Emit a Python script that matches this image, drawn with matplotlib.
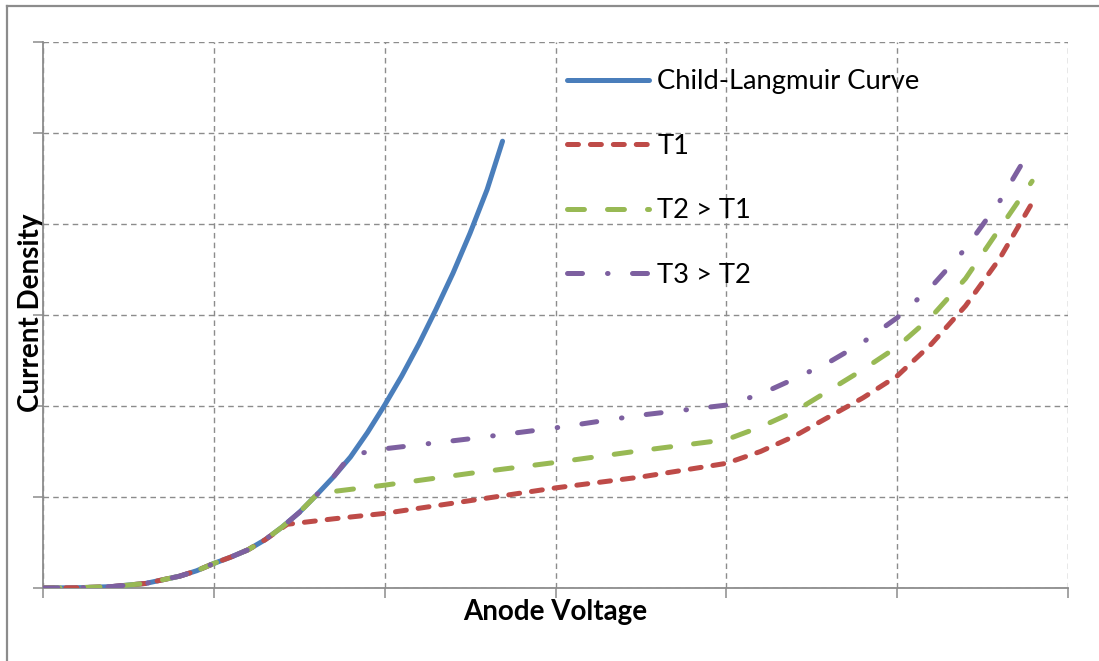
import matplotlib
matplotlib.use("Agg")
import matplotlib.pyplot as plt
from matplotlib.lines import Line2D

# Child-Langmuir (space-charge limited) curve
cl_v = [0, 0.2, 0.4, 0.6, 0.8, 0.9, 1.0, 1.1, 1.2, 1.3, 1.4, 1.5, 1.6, 1.7, 1.8, 1.9,
        2.0, 2.1, 2.2, 2.3, 2.4, 2.5, 2.6, 2.69]
cl_j = [0, 0.003, 0.015, 0.05, 0.13, 0.19, 0.27, 0.34, 0.42, 0.53, 0.67, 0.83, 1.02, 1.22, 1.44, 1.71,
        2.01, 2.33, 2.68, 3.06, 3.46, 3.90, 4.38, 4.91]

# temperature limited curves
t1_v = [0, 0.2, 0.4, 0.6, 0.8, 0.9, 1.0, 1.1, 1.2, 1.3, 1.43, 1.7, 2.0, 2.5, 3.0, 3.5, 4.0,
        4.2, 4.4, 4.6, 4.8, 5.0, 5.2, 5.4, 5.6, 5.78]
t1_j = [0, 0.003, 0.015, 0.05, 0.13, 0.19, 0.27, 0.34, 0.42, 0.53, 0.70, 0.76, 0.82, 0.96, 1.10, 1.22, 1.37,
        1.50, 1.67, 1.88, 2.09, 2.33, 2.68, 3.10, 3.62, 4.20]

t2_v = [0, 0.2, 0.4, 0.6, 0.8, 0.9, 1.0, 1.1, 1.2, 1.3, 1.4, 1.5, 1.61, 2.0, 2.5, 3.0, 3.5, 4.0,
        4.2, 4.4, 4.6, 4.8, 5.0, 5.2, 5.4, 5.6, 5.79]
t2_j = [0, 0.003, 0.015, 0.05, 0.13, 0.19, 0.27, 0.34, 0.42, 0.53, 0.67, 0.83, 1.04, 1.13, 1.26, 1.38, 1.51, 1.63,
        1.77, 1.94, 2.17, 2.40, 2.65, 2.98, 3.40, 3.95, 4.47]

t3_v = [0, 0.2, 0.4, 0.6, 0.8, 0.9, 1.0, 1.1, 1.2, 1.3, 1.4, 1.5, 1.6, 1.7, 1.8, 2.0, 2.5, 3.0, 3.5, 4.0,
        4.2, 4.4, 4.6, 4.8, 5.0, 5.2, 5.4, 5.6, 5.78]
t3_j = [0, 0.003, 0.015, 0.05, 0.13, 0.19, 0.27, 0.34, 0.42, 0.53, 0.67, 0.83, 1.02, 1.22, 1.46, 1.53, 1.64, 1.76, 1.90, 2.01,
        2.13, 2.30, 2.48, 2.70, 2.97, 3.31, 3.73, 4.25, 4.82]

labels = ["Child-Langmuir Curve", "T1", "T2 > T1", "T3 > T2"]
grid_ticks = [0, 1, 2, 3, 4, 5, 6]

plt.rcParams["font.family"] = ["Lato", "DejaVu Sans"]
plt.rcParams["lines.scale_dashes"] = False

W, H = 1099, 661
fig = plt.figure(figsize=(W / 100, H / 100), dpi=100)
ax = fig.add_axes([43 / W, (H - 588) / H, (1068 - 43) / W, (588 - 42) / H])

gray = "#8c8c8c"
lw = 3.6

ax.plot(cl_v, cl_j, color="#4a7ebb", lw=lw, solid_capstyle="round", solid_joinstyle="round",
        label=labels[0], zorder=3)
ax.plot(t1_v, t1_j, color="#be4b48", lw=lw, dashes=(7.9, 8.6), dash_capstyle="round",
        label=labels[1], zorder=4)
ax.plot(t2_v, t2_j, color="#98b954", lw=lw, dashes=(12.2, 16.6), dash_capstyle="round",
        label=labels[2], zorder=5)
ax.plot(t3_v, t3_j, color="#7d60a0", lw=lw, dashes=(10.8, 18, 0.4, 17.6), dash_capstyle="round",
        label=labels[3], zorder=6)

ax.set_xlim(0, 6)
ax.set_ylim(0, 6)
ax.set_xticks(grid_ticks)
ax.set_yticks(grid_ticks)
ax.set_xticklabels([])
ax.set_yticklabels([])
ax.tick_params(direction="out", length=7.2, width=1.1, color=gray)
ax.grid(True, color=gray, linestyle=(0, (4, 3)), linewidth=1.0)
ax.set_axisbelow(True)
for side in ("top", "right"):
    ax.spines[side].set_visible(False)
for side in ("left", "bottom"):
    ax.spines[side].set_color(gray)
    ax.spines[side].set_linewidth(1.3)

ax.set_xlabel("Anode Voltage", fontsize=20, fontweight="bold", va="center")
ax.xaxis.set_label_coords(0.5, -24 / 546)
ax.set_ylabel("Current Density", fontsize=20, fontweight="bold", va="center")
ax.yaxis.set_label_coords(-12 / 1025, 0.504)

ax.legend(loc="upper left", bbox_to_anchor=(0.511, 0.950), frameon=False,
          fontsize=19.75, handlelength=3.0, handletextpad=0.3, labelspacing=1.44,
          borderpad=0, borderaxespad=0)

# chart frame
fig.add_artist(Line2D([7 / W, 7 / W], [0, 1 - 6 / H], color=gray, lw=1.6))
fig.add_artist(Line2D([7 / W, 1], [1 - 6 / H, 1 - 6 / H], color=gray, lw=1.6))

fig.savefig("out.png", dpi=100)
